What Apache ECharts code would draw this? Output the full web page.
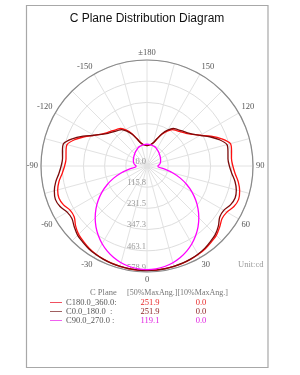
<!DOCTYPE html>
<html>
<head>
<meta charset="utf-8">
<script src="https://cdn.jsdelivr.net/npm/echarts@6/dist/echarts.min.js"></script>
<style>html,body{margin:0;padding:0;background:#fff;}#c{width:300px;height:375px;}</style>
</head>
<body>
<div id="c"></div>
<script>
// ---- data ----
var angles = [-180,-175,-170,-165,-160,-155,-150,-145,-140,-135,-130,-125,-120,-115,-110,-105,-100,-95,-90,-85,-80,-75,-70,-65,-60,-55,-50,-45,-40,-35,-30,-25,-20,-15,-10,-5,0,5,10,15,20,25,30,35,40,45,50,55,60,65,70,75,80,85,90,95,100,105,110,115,120,125,130,135,140,145,150,155,160,165,170,175,180];

var c180_360 = [112.0,114.0,119.0,131.0,158.0,195.0,226.0,250.0,260.0,271.0,283.0,303.0,334.0,378.0,420.0,452.0,449.0,444.0,450.0,465.0,488.0,505.0,512.0,503.0,484.0,485.0,509.0,528.0,538.5,549.0,556.0,561.5,565.0,567.5,569.8,571.0,
570.2,570.2,569.1,567.3,565.6,562.7,558.6,552.8,544.2,535.5,518.1,500.7,503.6,523.9,532.6,523.9,506.5,483.4,468.9,463.1,468.9,471.8,434.2,385.0,335.8,301.0,277.9,263.4,251.8,243.1,220.0,191.0,155.0,130.0,119.0,114.0,112.0];

var c0_180 = [112.0,114.0,119.0,130.0,155.0,191.0,220.0,243.1,251.8,263.4,277.9,301.0,335.8,385.0,434.2,471.8,468.9,463.1,468.9,483.4,506.5,523.9,532.6,523.9,503.6,500.7,518.1,535.5,544.2,552.8,558.6,562.7,565.6,567.3,569.1,570.2,
571.5,571.0,569.8,567.5,565.0,561.5,556.0,549.0,538.5,528.0,509.0,485.0,484.0,503.0,512.0,505.0,488.0,465.0,450.0,444.0,449.0,452.0,420.0,378.0,334.0,303.0,283.0,271.0,260.0,250.0,226.0,195.0,158.0,131.0,119.0,114.0,112.0];

var c90_270 = [119.0,118.5,117.5,116.0,114.0,111.0,107.0,103.0,99.0,95.0,91.0,88.0,85.0,82.0,79.0,76.0,72.0,66.0,60.0,62.0,98.3,146.5,193.6,239.2,283.0,324.6,363.8,400.2,433.6,463.6,490.2,513.0,531.9,546.7,557.4,563.8,
566.0,563.8,557.4,546.7,531.9,513.0,490.2,463.6,433.6,400.2,363.8,324.6,283.0,239.2,193.6,146.5,98.3,62.0,60.0,66.0,72.0,76.0,79.0,82.0,85.0,88.0,91.0,95.0,99.0,103.0,107.0,111.0,114.0,116.0,117.5,118.5,119.0];

var radialTickLabels = ['0.0','115.8','231.5','347.3','463.1','578.9'];
var radialMax = 578.9;

var seriesNames = ['C180.0_360.0:', 'C0.0_180.0  :', 'C90.0_270.0 :'];
var beam50 = ['251.9', '251.9', '119.1'];
var beam10 = ['0.0', '0.0', '0.0'];

var titleText = 'C Plane Distribution Diagram';
var unitText = 'Unit:cd';
var legendHeader1 = 'C Plane';
var legendHeader2 = '[50%MaxAng.][10%MaxAng.]';

// ---- styles ----
var lineColors = ['#ff1010', '#7a0a0a', '#ff00ff'];
var legendLineColors = ['#f05060', '#a06060', '#f060f0'];
var valueColors = ['#e82828', '#8a1c1c', '#e020e0'];
var serif = '"Liberation Serif", "DejaVu Serif", serif';

function toPairs(vals) {
  var out = [];
  for (var i = 0; i < angles.length; i++) {
    var a = angles[i];
    out.push([vals[i], a < 0 ? a + 360 : a]);
  }
  return out;
}

var chart = echarts.init(document.getElementById('c'), null, {renderer: 'canvas'});

var graphics = [
  {type: 'rect', shape: {x: 26.5, y: 5.5, width: 241.5, height: 362}, style: {fill: 'none', stroke: '#a8a8a8', lineWidth: 1.2}, z: -10},
  {type: 'text', x: 147, y: 19, style: {text: titleText, font: '12px "Liberation Sans", Arial, sans-serif', fill: '#111', align: 'center', verticalAlign: 'middle'}},
  {type: 'text', x: 238, y: 265, style: {text: unitText, font: '8.5px ' + serif, fill: '#999', align: 'left', verticalAlign: 'middle'}},
  {type: 'text', x: 90, y: 293, style: {text: legendHeader1, font: '8.5px ' + serif, fill: '#777', align: 'left', verticalAlign: 'middle'}},
  {type: 'text', x: 127, y: 293, style: {text: legendHeader2, font: '8px ' + serif, fill: '#777', align: 'left', verticalAlign: 'middle'}}
];
var rowY = [302.5, 311.5, 320.5];
for (var i = 0; i < 3; i++) {
  graphics.push({type: 'line', shape: {x1: 50, y1: rowY[i], x2: 62, y2: rowY[i]}, style: {stroke: legendLineColors[i], lineWidth: 1}});
  graphics.push({type: 'text', x: 66, y: rowY[i], style: {text: seriesNames[i], font: '8.5px ' + serif, fill: '#555', align: 'left', verticalAlign: 'middle'}});
  graphics.push({type: 'text', x: 150, y: rowY[i], style: {text: beam50[i], font: '8.5px ' + serif, fill: valueColors[i], align: 'center', verticalAlign: 'middle'}});
  graphics.push({type: 'text', x: 201, y: rowY[i], style: {text: beam10[i], font: '8.5px ' + serif, fill: valueColors[i], align: 'center', verticalAlign: 'middle'}});
}

var option = {
  animation: false,
  backgroundColor: '#fff',
  polar: {center: [147, 166], radius: 106},
  angleAxis: {
    type: 'value', min: 0, max: 360, interval: 30, startAngle: 270, clockwise: false,
    axisLine: {show: true, lineStyle: {color: '#8a8a8a', width: 1.2}},
    axisTick: {show: false},
    axisLabel: {
      margin: 3, color: '#555', fontFamily: serif, fontSize: 8.5,
      formatter: function (v) {
        if (v === 360) return '';
        if (v === 180) return '\u00b1180';
        return String(v > 180 ? v - 360 : v);
      }
    },
    splitLine: {show: true, lineStyle: {color: '#e2e2e2', width: 1}},
    minorTick: {show: false, splitNumber: 2},
    minorSplitLine: {show: true, lineStyle: {color: '#e2e2e2', width: 1}}
  },
  radiusAxis: {
    type: 'value', min: 0, max: radialMax, interval: radialMax / 5,
    axisLine: {show: false},
    axisTick: {show: false},
    axisLabel: {
      show: true, color: '#999', fontFamily: serif, fontSize: 8.5, margin: -1,
      align: 'right', verticalAlign: 'bottom',
      formatter: function (v, idx) {
        var k = Math.round(v / (radialMax / 5));
        return radialTickLabels[k] || '';
      }
    },
    splitLine: {show: true, lineStyle: {color: '#dedede', width: 1}}
  },
  series: [
    {name: seriesNames[0], type: 'line', coordinateSystem: 'polar', data: toPairs(c180_360), showSymbol: false, symbol: 'none', smooth: 0.3, lineStyle: {color: lineColors[0], width: 1.3}, z: 3},
    {name: seriesNames[1], type: 'line', coordinateSystem: 'polar', data: toPairs(c0_180), showSymbol: false, symbol: 'none', smooth: 0.3, lineStyle: {color: lineColors[1], width: 1.3}, z: 4},
    {name: seriesNames[2], type: 'line', coordinateSystem: 'polar', data: toPairs(c90_270), showSymbol: false, symbol: 'none', smooth: 0.3, lineStyle: {color: lineColors[2], width: 1.3}, z: 5}
  ],
  graphic: graphics
};
chart.setOption(option);
</script>
</body>
</html>
